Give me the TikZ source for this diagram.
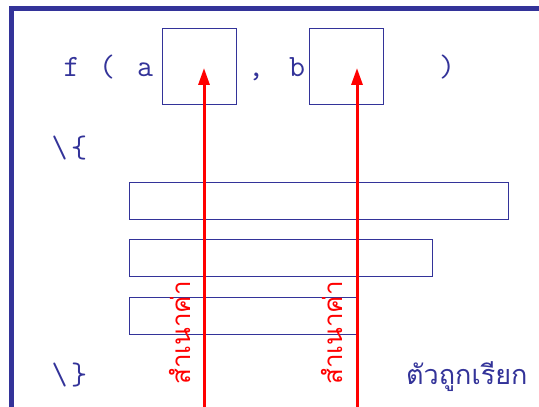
\documentclass[tikz,border=0pt]{standalone}
\usepackage{fontspec}
\usetikzlibrary{arrows.meta,calc}
\newfontfamily\thaifont[Script=Thai]{Loma}
\definecolor{slideblue}{HTML}{333399}

\begin{document}
\begin{tikzpicture}[x=1pt,y=1pt,
    codetext/.style={inner sep=0pt,anchor=base,text=slideblue,font=\ttfamily\fontsize{31}{34}\selectfont},
    parambox/.style={draw=slideblue,line width=1pt,inner sep=0pt,minimum width=74pt,minimum height=76pt},
    stmtbox/.style={draw=slideblue,line width=1pt,inner sep=0pt,minimum height=37pt,anchor=north west},
    copyarrow/.style={red,line width=3pt,-{Triangle[length=17pt,width=11pt]}},
    copytext/.style={inner sep=0pt,rotate=90,text=red,font=\thaifont\fontsize{26}{30}\selectfont}]
        \useasboundingbox (0,0) rectangle (539,407);
        % slide frame
        \draw[slideblue,line width=5pt] (11.5,0) |- (539,398);

        % function call and body
        \node[codetext] (fname) at (71.5,330) {f};
        \node[codetext] (lpar) at (107,330) {(};
        \node[codetext] (arga) at (145,330) {a};
        \node[codetext] (comma) at (256,330) {,};
        \node[codetext] (argb) at (297,330) {b};
        \node[codetext] (rpar) at (447,330) {)};
        \node[codetext] (bsopen) at (59.5,249) {\textbackslash};
        \node[codetext] (open) at (79,249) {\{};
        \node[codetext] (bsclose) at (59.5,22) {\textbackslash};
        \node[codetext] (close) at (79,22) {\}};

        \node[parambox] (pa) at (199,340) {};
        \node[parambox] (pb) at (346.5,340) {};

        \node[stmtbox,minimum width=379pt] (s1) at (129,225) {};
        \node[stmtbox,minimum width=303pt] (s2) at (129,168) {};
        \node[stmtbox,minimum width=227pt] (s3) at (129,110) {};

        % copied values
        \coordinate (ca) at (204,0);
        \coordinate (cb) at (357,0);
        \coordinate (ta) at (204,339);
        \coordinate (tb) at (357,339);
        \draw[copyarrow] (ca) -- (ta);
        \draw[copyarrow] (cb) -- (tb);
        \node[copytext] (la) at (180,74) {สำเนาค่า};
        \node[copytext] (lb) at (332,74) {สำเนาค่า};

        \node[inner sep=0pt,anchor=base west,text=slideblue,font=\thaifont\fontsize{27}{31}\selectfont] (callee) at (406,22) {ตัวถูกเรียก};
      \end{tikzpicture}
\end{document}
